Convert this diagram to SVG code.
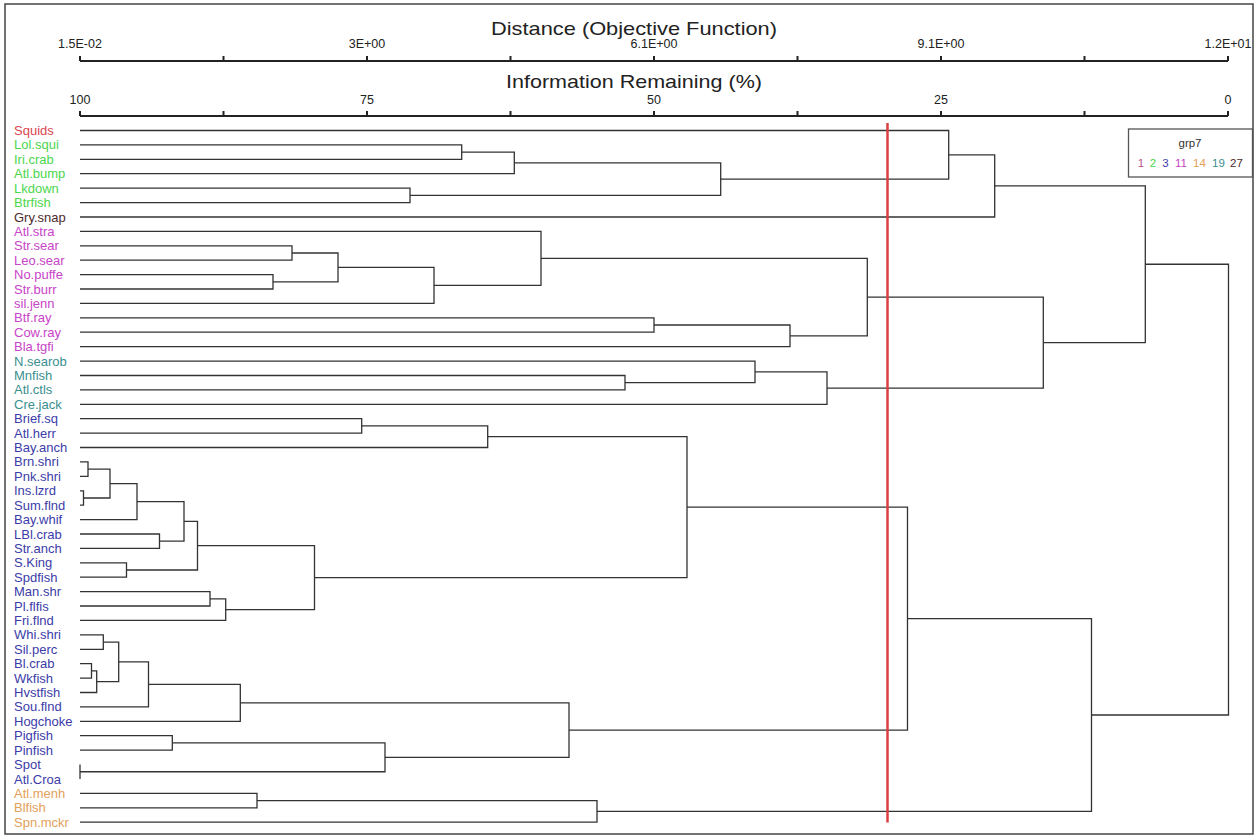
<svg xmlns="http://www.w3.org/2000/svg" width="1257" height="835" viewBox="0 0 1257 835">
<style>
.t{font-family:"Liberation Sans",Arial,sans-serif;fill:#222}
.title{font-size:19px}
.tick{font-size:12.5px}
.lab{font-family:"Liberation Sans",Arial,sans-serif;font-size:13px}
.c1{fill:#d9464e}.c2{fill:#4cd64c}.c3{fill:#3c3ca8}.c11{fill:#c844c8}.c14{fill:#e3a05a}.c19{fill:#3a8f8f}.c27{fill:#4d2a2a}
.ax{stroke:#222;stroke-width:2;fill:none}
.ln{stroke:#333;stroke-width:1.3;fill:none}
.leg{font-family:"Liberation Sans",Arial,sans-serif;font-size:11.5px}
</style>
<rect x="5" y="4" width="1248" height="830" fill="#fff" stroke="#444" stroke-width="1.5"/>
<g id="axis-distance">
<text class="t title" x="634" y="35" text-anchor="middle" textLength="286" lengthAdjust="spacingAndGlyphs">Distance (Objective Function)</text>
<g class="t tick" text-anchor="middle">
<text x="80" y="48">1.5E-02</text><text x="367" y="48">3E+00</text><text x="654" y="48">6.1E+00</text><text x="941" y="48">9.1E+00</text><text x="1228" y="48">1.2E+01</text>
</g>
<path class="ax" d="M80 61H1228M80 56V61M223.5 56V61M367 56V61M510.5 56V61M654 56V61M797.5 56V61M941 56V61M1084.5 56V61M1228 56V61"/>
</g>
<g id="axis-info">
<text class="t title" x="634" y="88" text-anchor="middle" textLength="256" lengthAdjust="spacingAndGlyphs">Information Remaining (%)</text>
<g class="t tick" text-anchor="middle">
<text x="80" y="104">100</text><text x="367" y="104">75</text><text x="654" y="104">50</text><text x="941" y="104">25</text><text x="1228" y="104">0</text>
</g>
<path class="ax" d="M80 116H1228M80 111V116M223.5 111V116M367 111V116M510.5 111V116M654 111V116M797.5 111V116M941 111V116M1084.5 111V116M1228 111V116"/>
</g>
<g id="labels" class="lab">
<g id="n-Squids"><text class="c1" x="14" y="135">Squids</text></g>
<g id="n-Lol.squi"><text class="c2" x="14" y="149.4">Lol.squi</text></g>
<g id="n-Iri.crab"><text class="c2" x="14" y="163.8">Iri.crab</text></g>
<g id="n-Atl.bump"><text class="c2" x="14" y="178.2">Atl.bump</text></g>
<g id="n-Lkdown"><text class="c2" x="14" y="192.6">Lkdown</text></g>
<g id="n-Btrfish"><text class="c2" x="14" y="207.1">Btrfish</text></g>
<g id="n-Gry.snap"><text class="c27" x="14" y="221.5">Gry.snap</text></g>
<g id="n-Atl.stra"><text class="c11" x="14" y="235.9">Atl.stra</text></g>
<g id="n-Str.sear"><text class="c11" x="14" y="250.3">Str.sear</text></g>
<g id="n-Leo.sear"><text class="c11" x="14" y="264.7">Leo.sear</text></g>
<g id="n-No.puffe"><text class="c11" x="14" y="279.1">No.puffe</text></g>
<g id="n-Str.burr"><text class="c11" x="14" y="293.5">Str.burr</text></g>
<g id="n-sil.jenn"><text class="c11" x="14" y="307.9">sil.jenn</text></g>
<g id="n-Btf.ray"><text class="c11" x="14" y="322.3">Btf.ray</text></g>
<g id="n-Cow.ray"><text class="c11" x="14" y="336.7">Cow.ray</text></g>
<g id="n-Bla.tgfi"><text class="c11" x="14" y="351.2">Bla.tgfi</text></g>
<g id="n-N.searob"><text class="c19" x="14" y="365.6">N.searob</text></g>
<g id="n-Mnfish"><text class="c19" x="14" y="380">Mnfish</text></g>
<g id="n-Atl.ctls"><text class="c19" x="14" y="394.4">Atl.ctls</text></g>
<g id="n-Cre.jack"><text class="c19" x="14" y="408.8">Cre.jack</text></g>
<g id="n-Brief.sq"><text class="c3" x="14" y="423.2">Brief.sq</text></g>
<g id="n-Atl.herr"><text class="c3" x="14" y="437.6">Atl.herr</text></g>
<g id="n-Bay.anch"><text class="c3" x="14" y="452">Bay.anch</text></g>
<g id="n-Brn.shri"><text class="c3" x="14" y="466.4">Brn.shri</text></g>
<g id="n-Pnk.shri"><text class="c3" x="14" y="480.8">Pnk.shri</text></g>
<g id="n-Ins.lzrd"><text class="c3" x="14" y="495.3">Ins.lzrd</text></g>
<g id="n-Sum.flnd"><text class="c3" x="14" y="509.7">Sum.flnd</text></g>
<g id="n-Bay.whif"><text class="c3" x="14" y="524.1">Bay.whif</text></g>
<g id="n-LBl.crab"><text class="c3" x="14" y="538.5">LBl.crab</text></g>
<g id="n-Str.anch"><text class="c3" x="14" y="552.9">Str.anch</text></g>
<g id="n-S.King"><text class="c3" x="14" y="567.3">S.King</text></g>
<g id="n-Spdfish"><text class="c3" x="14" y="581.7">Spdfish</text></g>
<g id="n-Man.shr"><text class="c3" x="14" y="596.1">Man.shr</text></g>
<g id="n-Pl.flfis"><text class="c3" x="14" y="610.5">Pl.flfis</text></g>
<g id="n-Fri.flnd"><text class="c3" x="14" y="624.9">Fri.flnd</text></g>
<g id="n-Whi.shri"><text class="c3" x="14" y="639.4">Whi.shri</text></g>
<g id="n-Sil.perc"><text class="c3" x="14" y="653.8">Sil.perc</text></g>
<g id="n-Bl.crab"><text class="c3" x="14" y="668.2">Bl.crab</text></g>
<g id="n-Wkfish"><text class="c3" x="14" y="682.6">Wkfish</text></g>
<g id="n-Hvstfish"><text class="c3" x="14" y="697">Hvstfish</text></g>
<g id="n-Sou.flnd"><text class="c3" x="14" y="711.4">Sou.flnd</text></g>
<g id="n-Hogchoke"><text class="c3" x="14" y="725.8">Hogchoke</text></g>
<g id="n-Pigfish"><text class="c3" x="14" y="740.2">Pigfish</text></g>
<g id="n-Pinfish"><text class="c3" x="14" y="754.6">Pinfish</text></g>
<g id="n-Spot"><text class="c3" x="14" y="769">Spot</text></g>
<g id="n-Atl.Croa"><text class="c3" x="14" y="783.5">Atl.Croa</text></g>
<g id="n-Atl.menh"><text class="c14" x="14" y="797.9">Atl.menh</text></g>
<g id="n-Blfish"><text class="c14" x="14" y="812.3">Blfish</text></g>
<g id="n-Spn.mckr"><text class="c14" x="14" y="826.7">Spn.mckr</text></g>
</g>
<g id="connectors" class="ln">
<path d="M80 144.9H461.7V159.3H80"/>
<path d="M461.7 152.1H514.3V173.7H80"/>
<path d="M80 188.1H410V202.6H80"/>
<path d="M514.3 162.9H720.7V195.35H410"/>
<path d="M80 130.5H948.7V179.1H720.7"/>
<path d="M948.7 154.8H994.7V217H80"/>
<path d="M80 245.8H292V260.2H80"/>
<path d="M80 274.6H273V289H80"/>
<path d="M292 253H338V281.8H273"/>
<path d="M338 267.4H434V303.4H80"/>
<path d="M80 231.4H541V285.4H434"/>
<path d="M80 317.8H654V332.2H80"/>
<path d="M654 325H790V346.7H80"/>
<path d="M541 258.4H867.3V335.85H790"/>
<path d="M80 375.5H625V389.9H80"/>
<path d="M80 361.1H755V382.7H625"/>
<path d="M755 371.9H827V404.3H80"/>
<path d="M867.3 297.1H1043.3V388.1H827"/>
<path d="M994.7 185.9H1145.3V342.6H1043.3"/>
<path d="M80 418.7H361.7V433.1H80"/>
<path d="M361.7 425.9H487.7V447.5H80"/>
<path d="M80 461.9H88V476.3H80"/>
<path d="M80 490.8H83.5V505.2H80"/>
<path d="M88 469.1H110V498H83.5"/>
<path d="M110 483.55H137V519.6H80"/>
<path d="M80 534H159.5V548.4H80"/>
<path d="M137 501.6H184V541.2H159.5"/>
<path d="M80 562.8H126.5V577.2H80"/>
<path d="M184 521.4H197.5V570H126.5"/>
<path d="M80 591.6H210V606H80"/>
<path d="M210 598.8H225.7V620.4H80"/>
<path d="M197.5 545.7H314.5V609.6H225.7"/>
<path d="M487.7 436.7H687V577.65H314.5"/>
<path d="M80 634.9H103.3V649.3H80"/>
<path d="M80 663.7H91.5V678.1H80"/>
<path d="M91.5 670.9H96.7V692.5H80"/>
<path d="M103.3 642.1H118.7V681.7H96.7"/>
<path d="M118.7 661.9H148.5V706.9H80"/>
<path d="M148.5 684.4H240.3V721.3H80"/>
<path d="M80 735.7H172.3V750.1H80"/>
<path d="M80 764.5V779"/>
<path d="M172.3 742.9H385V771.75H80"/>
<path d="M240.3 702.85H569V757.3H385"/>
<path d="M687 507.2H907.5V730.1H569"/>
<path d="M80 793.4H257V807.8H80"/>
<path d="M257 800.6H597V822.2H80"/>
<path d="M907.5 618.65H1091.5V811.4H597"/>
<path d="M1145.3 264.25H1228.5V715H1091.5"/>
</g>
<line id="cut" x1="887.5" y1="123" x2="887.5" y2="822.5" stroke="#d9403f" stroke-width="2.5"/>
<g id="legend">
<rect x="1128.5" y="129" width="124" height="48" fill="#fff" stroke="#555" stroke-width="1.3"/>
<text class="leg" x="1190" y="147" text-anchor="middle" fill="#333">grp7</text>
<g class="leg" text-anchor="middle">
<text x="1141" y="167" fill="#c0508a">1</text>
<text x="1153" y="167" fill="#4cd64c">2</text>
<text x="1165.5" y="167" fill="#3c3ca8">3</text>
<text x="1181" y="167" fill="#c844c8">11</text>
<text x="1199.5" y="167" fill="#e3a05a">14</text>
<text x="1218.5" y="167" fill="#3a8f8f">19</text>
<text x="1236.5" y="167" fill="#4d2a2a">27</text>
</g>
</g>
</svg>
